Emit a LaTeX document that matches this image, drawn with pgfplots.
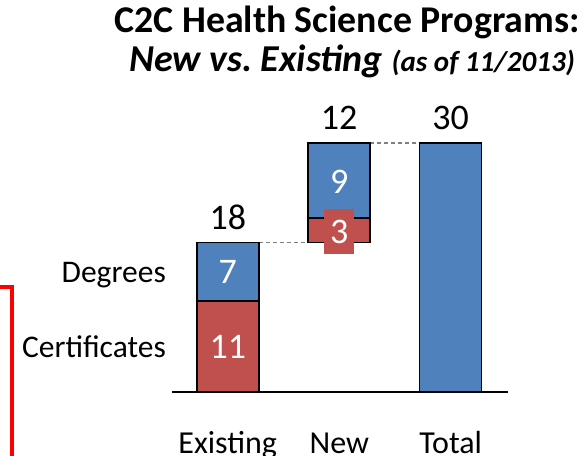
\documentclass[border=0pt]{standalone}
\usepackage{fontspec}
\setmainfont{Carlito}
\usepackage{pgfplots}
\pgfplotsset{compat=1.18}
\definecolor{cblue}{HTML}{4F81BD}
\definecolor{cred}{HTML}{C0504D}
\begin{document}
\begin{tikzpicture}[x=1bp,y=1bp]
\useasboundingbox (0,0) rectangle (584,456);
% title
\node[anchor=base,font=\fontsize{37.8bp}{44bp}\selectfont\bfseries] at (347,423) {C2C Health Science Programs:};
\node[anchor=base,font=\fontsize{38bp}{44bp}\selectfont\bfseries\itshape] at (352,384) {New vs.\ Existing {\fontsize{29bp}{32bp}\selectfont (as of 11/2013)}};
% left labels
\node[anchor=base east,inner sep=0pt,font=\fontsize{31.5bp}{36bp}\selectfont] at (166,173) {Degrees};
\node[anchor=base east,inner sep=0pt,font=\fontsize{31.5bp}{36bp}\selectfont] at (166,98) {Certificates};
% red bracket
\draw[red,line width=3.5bp] (0,169) -- (12,169) -- (12,-2);
\begin{axis}[
  at={(154.5,77)}, anchor=south west,
  scale only axis, width=336bp, height=290.5bp,
  xmin=-0.498, xmax=2.516, ymin=0, ymax=35,
  axis x line*=bottom, axis y line=none,
  x axis line style={line width=1.5bp,-},
  xtick=\empty, ytick=\empty,
  clip=false,
  ybar stacked, bar width=62bp,
]
\addplot[draw=none,fill=none] coordinates {(0,0) (1,18) (2,0)};
\addplot[draw=black,line width=1.5bp,fill=cred] coordinates {(0,11) (1,3) (2,0)};
\addplot[draw=black,line width=1.5bp,fill=cblue] coordinates {(0,7) (1,9) (2,30)};
% connectors
\draw[gray,line width=1.5bp,dash pattern=on 4bp off 3bp] (axis cs:0.278,18) -- (axis cs:0.722,18);
\draw[gray,line width=1.5bp,dash pattern=on 4bp off 3bp] (axis cs:1.278,30) -- (axis cs:1.722,30);
\coordinate (L18) at (axis cs:0,21.0);
\coordinate (L12) at (axis cs:1,33.0);
\coordinate (L30) at (axis cs:2,33.0);
\coordinate (L7) at (axis cs:0,14.5);
\coordinate (L11) at (axis cs:0,5.4);
\coordinate (L9) at (axis cs:1,25.3);
\coordinate (L3) at (axis cs:1,19.35);
\coordinate (C0) at (axis cs:0,0);
\coordinate (C1) at (axis cs:1,0);
\coordinate (C2) at (axis cs:2,0);
\end{axis}
% value labels
\node[font=\fontsize{36bp}{40bp}\selectfont] at (L18) {18};
\node[font=\fontsize{36bp}{40bp}\selectfont] at (L12) {12};
\node[font=\fontsize{36bp}{40bp}\selectfont] at (L30) {30};
\node[white,font=\fontsize{36bp}{40bp}\selectfont] at (L7) {7};
\node[white,font=\fontsize{36bp}{40bp}\selectfont] at (L11) {11};
\node[white,font=\fontsize{36bp}{40bp}\selectfont] at (L9) {9};
\node[white,fill=cred,inner sep=0pt,minimum width=30bp,minimum height=45bp,font=\fontsize{36bp}{40bp}\selectfont] at (L3) {3};
% category labels
\node[anchor=base,font=\fontsize{32bp}{36bp}\selectfont] at ([yshift=-61bp]C0) {Existing};
\node[anchor=base,font=\fontsize{32bp}{36bp}\selectfont] at ([yshift=-61bp]C1) {New};
\node[anchor=base,font=\fontsize{32bp}{36bp}\selectfont] at ([yshift=-61bp]C2) {Total};
\end{tikzpicture}
\end{document}
